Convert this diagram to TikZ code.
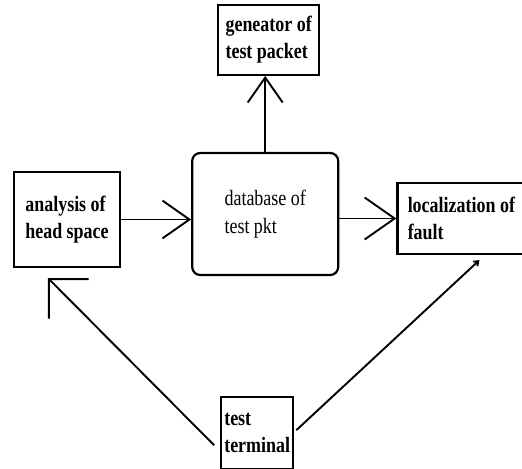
\documentclass[tikz,border=0pt]{standalone}
\usepackage{fontspec}
\setmainfont{Liberation Serif}[FakeStretch=0.82]
\usetikzlibrary{positioning, arrows.meta}
\tikzset{node distance=70bp,
	block/.style={draw, line width=2.2bp, align=left, inner sep=0pt, font=\fontsize{22}{27.5}\selectfont\bfseries},
	plain block/.style={block, rounded corners=8bp, font=\fontsize{22}{28}\selectfont},
	barb/.style={-{Straight Barb[length=#1, width=1.4*#1]}}}
\begin{document}
\begin{tikzpicture}[x=1bp, y=1bp, line width=1.9bp]
	\useasboundingbox (0,0) rectangle (522,469);
	\node[block, minimum width=106bp, minimum height=95bp] (Analysis) at (67,249.5) {analysis of\\head space};
	\node[plain block, minimum width=146bp, minimum height=122bp, right=70bp of Analysis, yshift=5.5bp] (Database) {database of\\test pkt};
	\node[block, minimum width=101bp, minimum height=70bp, above=76bp of Database, xshift=3.5bp] (Generator) {geneator of\\test packet};
	\node[block, minimum width=128bp, minimum height=71bp, right=57bp of Database, yshift=-4.5bp] (Localization) {localization of\\fault};
	\node[block, minimum width=72bp, minimum height=72bp, below=120bp of Database, xshift=-8bp] (Terminal) {test\\terminal};
	\draw[barb=27bp] (Analysis.east) -- (Analysis.east -| Database.west);
	\draw[barb=30bp] (Localization.west -| Database.east) -- (Localization.west);
	\draw[barb=25bp] (Database.north) -- (Database.north |- Generator.south);
	\draw[-{Straight Barb[length=28bp, width=56bp]}] ([xshift=-6bp, yshift=-12bp]Terminal.west) -- ([xshift=-19bp, yshift=-10bp]Analysis.south);
	\draw[-{Straight Barb[length=4bp, width=6bp]}] ([xshift=2bp, yshift=3bp]Terminal.east) -- ([xshift=18bp, yshift=-5bp]Localization.south);
\end{tikzpicture}
\end{document}
